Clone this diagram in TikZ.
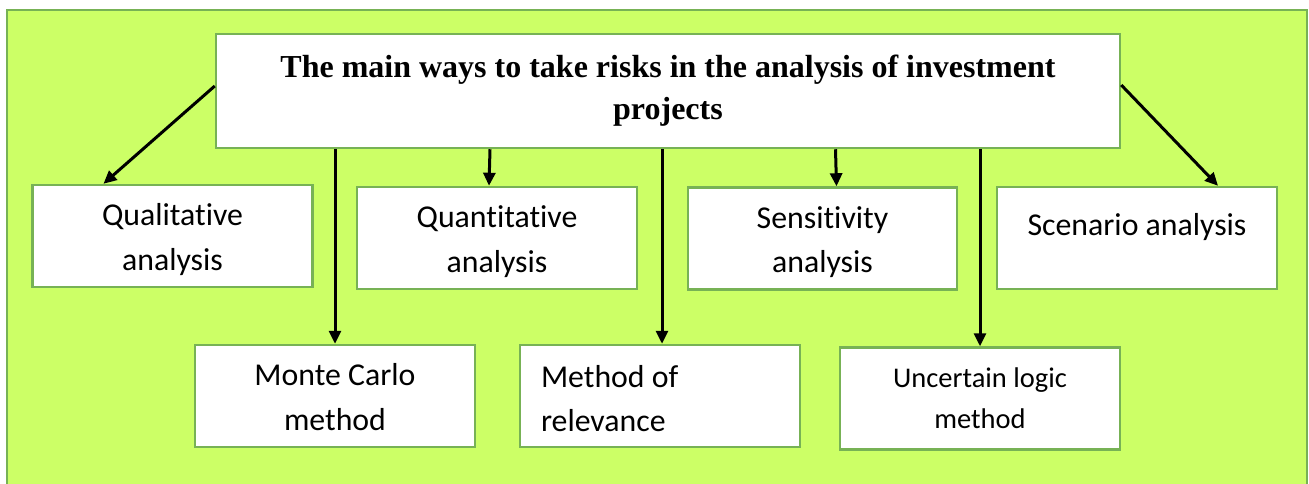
\documentclass[tikz,border=0pt]{standalone}
\usepackage{fontspec}
\setmainfont{Carlito}[Ligatures=NoCommon]
\newfontfamily\titlefont{Liberation Serif}
\usetikzlibrary{arrows.meta}
\definecolor{bgfill}{HTML}{CCFF66}
\definecolor{edgegreen}{HTML}{77B255}
\begin{document}
\begin{tikzpicture}[x=1pt,y=-1pt,
  box/.style={draw=edgegreen, line width=2.5pt, fill=white, minimum width=280pt,
    minimum height=102pt, inner sep=0pt, align=center,
    font=\fontsize{31.8}{44.5}\selectfont},
  twoline/.style={text height=68pt, text depth=0pt},
  arr/.style={line width=3pt, -{Triangle[length=13pt,width=12pt]}}]
\useasboundingbox (0,0) rectangle (1309,483);
\clip (0,0) rectangle (1309,483);
\filldraw[fill=bgfill, draw=edgegreen, line width=2.5pt] (7,10) rectangle (1307,520);

\node[box, minimum width=904pt, minimum height=114pt,
  font=\titlefont\bfseries\fontsize{32}{42}\selectfont] (main) at (668,91)
  {The main ways to take risks in the analysis of investment\\projects};

\node[box, twoline] (qual) at (172.5,236) {Qualitative\\analysis};
\node[box, twoline] (quant) at (497,238) {Quantitative\\analysis};
\node[box, twoline, minimum width=269pt] (sens) at (822.5,238.5) {Sensitivity\\analysis};
\node[box, text height=20pt, text depth=26pt] (scen) at (1137,238) {Scenario analysis};
\node[box, twoline] (mc) at (335,396) {Monte Carlo\\method};
\node[box, align=flush left, text width=238pt, text height=22pt, text depth=40pt] (rel) at (660,396) {Method of\\relevance};
\node[box, font=\fontsize{28.5}{41}\selectfont] (unc) at (980,398.5) {Uncertain logic\\method};

\draw[arr] ([yshift=5pt]main.west) -- ([xshift=-69pt]qual.north);
\draw[arr] ([xshift=-7pt]quant.north |- main.south) -- ([xshift=-8pt]quant.north);
\draw[arr] ([xshift=13pt]sens.north |- main.south) -- ([xshift=14pt]sens.north);
\draw[arr] (mc.north |- main.south) -- (mc.north);
\draw[arr] ([xshift=2pt]rel.north |- main.south) -- ([xshift=2pt]rel.north);
\draw[arr] (unc.north |- main.south) -- (unc.north);
\draw[arr] ([yshift=6pt]main.east) -- ([xshift=81pt]scen.north);
\end{tikzpicture}
\end{document}
